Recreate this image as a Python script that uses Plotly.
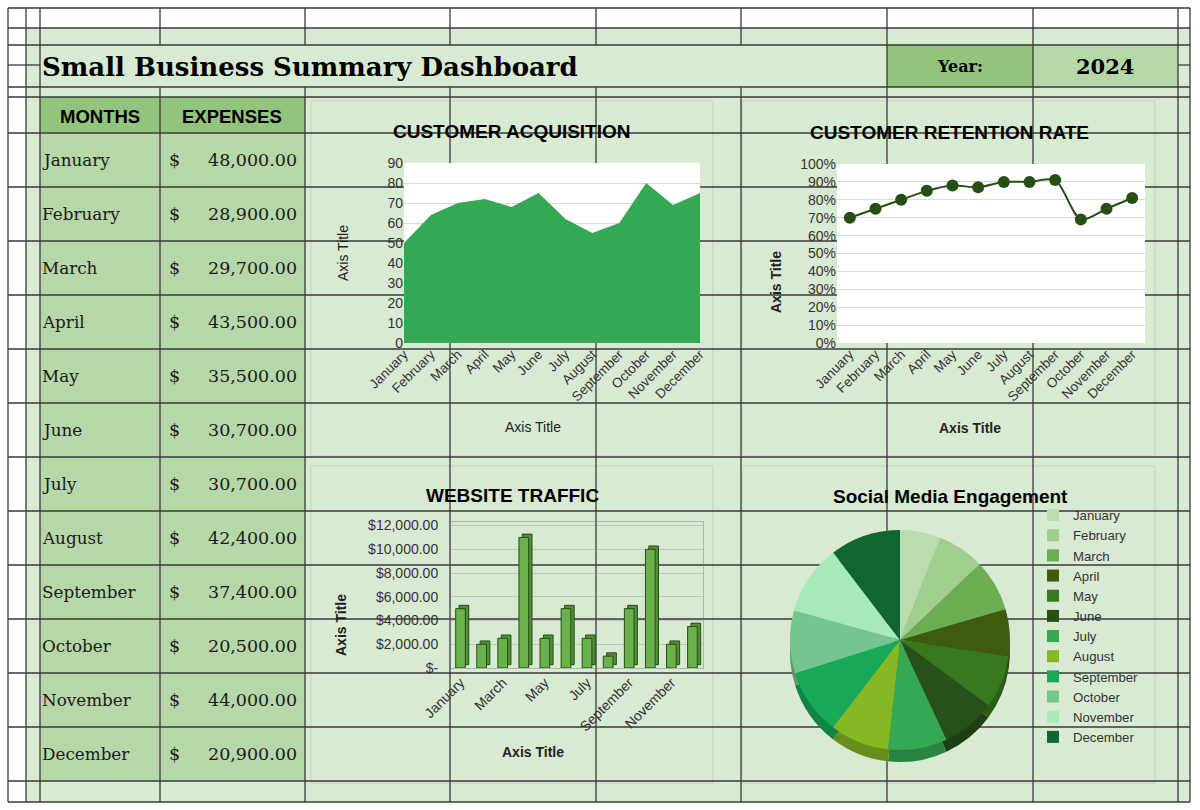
import plotly.graph_objects as go

# ---------------- data ----------------
months = ["January", "February", "March", "April", "May", "June", "July",
          "August", "September", "October", "November", "December"]
expenses = [48000, 28900, 29700, 43500, 35500, 30700, 30700, 42400, 37400, 20500, 44000, 20900]
acquisition = [50, 64, 70, 72, 68, 75, 62, 55, 60, 80, 69, 75]
retention = [0.70, 0.75, 0.80, 0.85, 0.88, 0.87, 0.90, 0.90, 0.91, 0.69, 0.75, 0.81]
traffic = [5000, 2000, 2500, 11000, 2500, 5000, 2500, 1000, 5000, 10000, 2000, 3500]
engagement = [600, 690, 760, 690, 780, 790, 870, 870, 970, 920, 1030, 1040]
traffic_ticks = [0, 2000, 4000, 6000, 8000, 10000, 12000]
traffic_ticktext = ["$-", "$2,000.00", "$4,000.00", "$6,000.00", "$8,000.00", "$10,000.00", "$12,000.00"]
pie_colors = ["#b9dcb0", "#9fce8e", "#6cad52", "#3f5b0e", "#38781f", "#27501a",
              "#34a853", "#86b824", "#17a85a", "#74c58e", "#a7eab9", "#116530"]

W, H = 1200, 810
def px(x):
    return x / W
def py(y):
    return 1 - y / H

def darken(hexcol, f=0.78):
    h = hexcol.lstrip("#")
    r, g, b = (int(h[i:i + 2], 16) for i in (0, 2, 4))
    return "#%02x%02x%02x" % (int(r * f), int(g * f), int(b * f))

SANS = "Liberation Sans, Arial, sans-serif"
SERIF = "DejaVu Serif, serif"
LIGHT = "#d9ead3"
MID = "#b6d7a8"
DARK = "#93c47d"
LINE = "#3a3a3a"

fig = go.Figure()

# ---- chart 1: customer acquisition (area) ----
fig.add_trace(go.Scatter(x=months, y=acquisition, mode="lines", fill="tozeroy",
                         line=dict(width=0, color="#34a853"), fillcolor="#34a853",
                         xaxis="x", yaxis="y", showlegend=False, hoverinfo="skip"))

# ---- chart 2: retention (smoothed line + markers) ----
fig.add_trace(go.Scatter(x=months, y=retention, mode="lines+markers",
                         line=dict(color="#274e13", width=2, shape="spline", smoothing=0.8),
                         marker=dict(size=12, color="#274e13"),
                         xaxis="x2", yaxis="y2", showlegend=False, hoverinfo="skip"))

# ---- chart 3: website traffic (bars with a depth face) ----
depth = 280
fig.add_trace(go.Bar(x=months, y=traffic, base=[depth] * len(traffic),
                     width=0.46, offset=-0.23 + 0.16,
                     marker=dict(color="#4f8f3a", line=dict(color="#274e13", width=1)),
                     xaxis="x3", yaxis="y3", showlegend=False, hoverinfo="skip"))
fig.add_trace(go.Bar(x=months, y=traffic, width=0.46, offset=-0.23,
                     marker=dict(color="#6ab04c", line=dict(color="#274e13", width=1)),
                     xaxis="x3", yaxis="y3", showlegend=False, hoverinfo="skip"))

# ---- chart 4: social media engagement (pie with a darker rim for depth) ----
fig.add_trace(go.Pie(labels=months, values=engagement, sort=False, direction="clockwise",
                     rotation=0, textinfo="none", hoverinfo="skip",
                     marker=dict(colors=[darken(c) for c in pie_colors], line=dict(width=0)),
                     domain=dict(x=[px(790), px(1010)], y=[py(762), py(542)]),
                     showlegend=False))
fig.add_trace(go.Pie(labels=months, values=engagement, sort=False, direction="clockwise",
                     rotation=0, textinfo="none", hoverinfo="skip",
                     marker=dict(colors=pie_colors, line=dict(width=0)),
                     domain=dict(x=[px(790), px(1010)], y=[py(750), py(530)]),
                     showlegend=True))

# ---------------- shapes ----------------
shapes = []
def rect(x0, y0, x1, y1, fill=None, line=None, lw=1):
    shapes.append(dict(type="rect", xref="paper", yref="paper", layer="below",
                       x0=px(x0), x1=px(x1), y0=py(y1), y1=py(y0),
                       fillcolor=fill if fill else "rgba(0,0,0,0)",
                       line=dict(width=lw if line else 0, color=line if line else "rgba(0,0,0,0)")))
def hline(y, x0, x1, w=1.3):
    shapes.append(dict(type="line", xref="paper", yref="paper", layer="below",
                       x0=px(x0), x1=px(x1), y0=py(y), y1=py(y), line=dict(color=LINE, width=w)))
def vline(x, y0, y1, w=1.3):
    shapes.append(dict(type="line", xref="paper", yref="paper", layer="below",
                       x0=px(x), x1=px(x), y0=py(y0), y1=py(y1), line=dict(color=LINE, width=w)))

# cell fills
rect(26, 28, 1190, 802, fill=LIGHT)
rect(40, 133, 305, 781, fill=MID)
rect(40, 97, 305, 133, fill=DARK)
rect(887, 45, 1033, 87, fill=DARK)
rect(1033, 45, 1178, 87, fill=MID)

# chart frames
for (a, b, c, d) in [(311, 101, 713, 456), (742, 101, 1155, 456), (311, 466, 713, 783), (742, 466, 1155, 783)]:
    rect(a, b, c, d, line="#c4cfc0", lw=1)

# sheet grid
for y in [8, 28, 45, 87, 97, 133, 187, 241, 295, 349, 403, 457, 511, 565, 619, 673, 727, 781, 802]:
    hline(y, 8, 1190)
hline(65, 8, 40)
hline(65, 1178, 1190)
for x in [8, 26, 40, 887, 1033, 1178, 1190]:
    vline(x, 8, 802)
for x in [160, 305, 450, 596, 741]:
    vline(x, 8, 45)
    vline(x, 87, 802)

# white plot areas (drawn over the sheet grid)
for ax in ["x", "x2"]:
    yax = "y" if ax == "x" else "y2"
    shapes.append(dict(type="rect", xref=ax + " domain", yref=yax + " domain", layer="below",
                       x0=0, x1=1, y0=0, y1=1, fillcolor="white", line=dict(width=0)))

# ---------------- annotations ----------------
ann = []
def text(x, y, s, size, font=SANS, color="#000", xanchor="center", angle=0, bold=False):
    ann.append(dict(x=px(x), y=py(y), xref="paper", yref="paper", showarrow=False,
                    text=f"<b>{s}</b>" if bold else s, textangle=angle,
                    xanchor=xanchor, yanchor="middle",
                    font=dict(family=font, size=size, color=color)))

text(40, 67, "Small Business Summary Dashboard", 26, font=SERIF, xanchor="left", bold=True)
text(960, 67, "Year:", 16, font=SERIF, bold=True)
text(1105, 66, "2024", 21, font=SERIF, bold=True)
text(100, 116, "MONTHS", 18.5, bold=True)
text(232, 116, "EXPENSES", 18.5, bold=True)
for i, (m, v) in enumerate(zip(months, expenses)):
    yc = 160 + i * 54
    text(40, yc, m, 16.8, font=SERIF, color="#1a1a1a", xanchor="left")
    text(167, yc, "$", 17.5, font=SERIF, color="#1a1a1a", xanchor="left")
    text(299, yc, f"{v:,.2f}", 17.5, font=SERIF, color="#1a1a1a", xanchor="right")

text(512, 131, "CUSTOMER ACQUISITION", 19, bold=True)
text(949, 132, "CUSTOMER RETENTION RATE", 19, bold=True)
text(512, 495, "WEBSITE TRAFFIC", 19, bold=True)
text(950, 496, "Social Media Engagement", 19, bold=True)

text(343, 253, "Axis Title", 14, color="#222", angle=-90)
text(533, 427, "Axis Title", 14, color="#222")
text(776, 282, "Axis Title", 14, color="#222", angle=-90, bold=True)
text(970, 428, "Axis Title", 14, color="#222", bold=True)
text(341, 625, "Axis Title", 14, color="#222", angle=-90, bold=True)
text(533, 752, "Axis Title", 14, color="#222", bold=True)

tickfont = dict(family=SANS, size=14, color="#333")
xtickfont = dict(family=SANS, size=13.5, color="#333")

fig.update_layout(
    width=W, height=H, margin=dict(l=0, r=0, t=0, b=0, autoexpand=False),
    paper_bgcolor="white", plot_bgcolor="rgba(0,0,0,0)",
    barmode="overlay",
    shapes=shapes, annotations=ann,
    xaxis=dict(domain=[px(404), px(700)], anchor="y", type="category", range=[0, 11],
               showgrid=False, zeroline=False, showline=False, tickangle=-45,
               tickfont=xtickfont, ticks=""),
    yaxis=dict(domain=[py(343), py(163)], anchor="x", range=[0, 90], dtick=10,
               gridcolor="#d9d9d9", zeroline=False, showline=False, tickfont=tickfont,
               ticks=""),
    xaxis2=dict(domain=[px(837), px(1145)], anchor="y2", type="category", range=[-0.5, 11.5],
                showgrid=False, zeroline=False, showline=False, tickangle=-45,
                tickfont=xtickfont, ticks=""),
    yaxis2=dict(domain=[py(343), py(164)], anchor="x2", range=[0, 1], dtick=0.1,
                tickformat=".0%", gridcolor="#d9d9d9", zeroline=False, showline=False,
                tickfont=tickfont, ticks=""),
    xaxis3=dict(domain=[px(450), px(703)], anchor="y3", type="category", range=[-0.5, 11.5],
                tickvals=months[::2], showgrid=False, zeroline=False,
                showline=True, linecolor="rgba(120,120,120,0.45)", mirror=True,
                tickangle=-45, tickfont=tickfont, ticks=""),
    yaxis3=dict(domain=[py(668), py(522)], anchor="x3", range=[0, 12300],
                tickvals=traffic_ticks, ticktext=traffic_ticktext,
                gridcolor="rgba(120,120,120,0.3)", zeroline=False,
                showline=True, linecolor="rgba(120,120,120,0.45)", mirror=True,
                tickfont=tickfont, ticks="", ticklabelstandoff=8),
    legend=dict(x=px(1033), y=py(500), xanchor="left", yanchor="top",
                font=dict(family=SANS, size=13.2, color="#333"),
                bgcolor="rgba(0,0,0,0)", itemwidth=30, tracegroupgap=0),
)

fig.write_html("out.html", config={"displayModeBar": False})
